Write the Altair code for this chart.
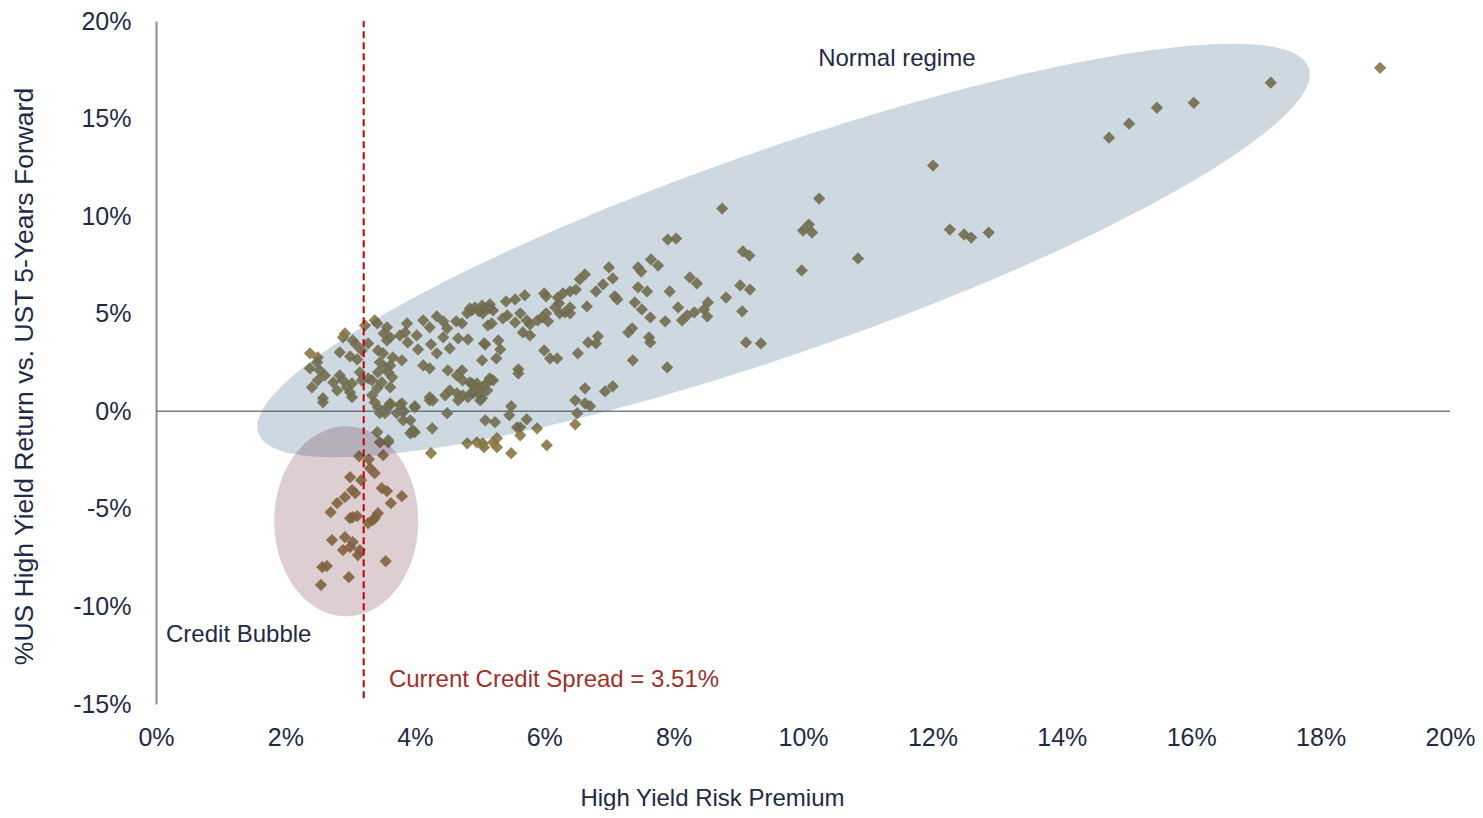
import altair as alt
import pandas as pd

# ---------------- data ----------------
spread = [
    14.73, 15.04, 15.47, 16.04, 17.23, 18.92, 12.01, 12.27, 12.49, 12.60,
    12.87, 10.85, 10.25, 8.75, 10.00, 10.09, 10.14, 7.91, 8.04, 9.07,
    9.17, 9.98, 7.76, 8.25, 8.36, 7.94, 9.03, 9.18, 8.81, 8.53,
    8.07, 8.47, 8.32, 8.21, 8.13, 8.52, 7.87, 9.06, 9.12, 9.35,
    7.90, 7.00, 7.45, 7.50, 7.65, 6.63, 6.55, 7.06, 6.91, 6.80,
    7.45, 7.59, 7.40, 7.51, 7.64, 7.09, 7.13, 6.49, 6.40, 6.29,
    6.21, 6.23, 6.00, 6.03, 5.70, 5.55, 5.41, 5.16, 5.21, 5.04,
    5.07, 4.88, 4.99, 6.17, 6.24, 6.40, 6.32, 6.40, 6.03, 5.97,
    6.06, 5.90, 5.63, 5.55, 5.43, 5.36, 5.73, 5.78, 6.66, 5.19,
    5.67, 5.78, 7.36, 7.30, 7.62, 7.64, 6.83, 6.80, 6.68, 5.09,
    5.29, 5.32, 5.26, 6.00, 6.09, 6.20, 6.52, 5.04, 5.60, 5.60,
    7.37, 5.16, 5.12, 5.05, 4.98, 5.21, 4.88, 4.90, 5.01, 6.63,
    7.06, 6.94, 6.48, 6.63, 6.71, 6.51, 5.49, 5.46, 5.09, 5.24,
    5.73, 5.63, 5.89, 6.48, 5.63, 4.96, 5.05, 5.21, 5.27, 6.04,
    5.49, 5.58, 4.81, 5.07, 5.27, 4.25, 3.62, 3.77, 3.82, 3.72,
    3.54, 4.00, 4.23, 4.50, 4.67, 5.01, 3.93, 3.96, 4.00, 4.27,
    3.59, 3.51, 3.88, 4.13, 4.23, 4.34, 4.44, 4.50, 4.64, 4.73,
    4.81, 5.05, 5.15, 5.13, 3.23, 3.42, 3.57, 3.52, 3.62, 3.57,
    2.92, 2.89, 3.04, 3.28, 3.09, 3.77, 3.85, 3.89, 4.05, 4.03,
    4.25, 4.34, 4.44, 4.54, 4.67, 4.82, 5.07, 2.84, 3.00, 3.11,
    3.18, 3.43, 3.51, 3.66, 3.80, 3.46, 3.62, 2.38, 2.50, 2.49,
    2.38, 2.53, 2.61, 2.50, 4.13, 4.23, 2.84, 2.89, 2.74, 2.80,
    2.95, 3.03, 3.00, 3.03, 3.15, 3.18, 3.28, 3.34, 3.43, 3.54,
    3.59, 3.65, 3.49, 3.42, 3.62, 3.34, 2.41, 2.58, 2.58, 4.51,
    4.73, 4.65, 4.74, 4.85, 4.96, 4.54, 4.65, 4.74, 4.82, 4.88,
    5.04, 5.12, 5.16, 4.23, 4.28, 4.47, 3.38, 3.43, 3.46, 3.57,
    3.62, 3.80, 3.82, 4.00, 3.97, 3.93, 3.42, 3.59, 3.46, 3.38,
    4.85, 4.93, 3.82, 3.14, 3.29, 3.31, 3.38, 3.00, 3.17, 3.49,
    3.57, 3.80, 3.03, 3.08, 2.92, 2.80, 2.70, 3.63, 3.00, 3.04,
    3.11, 3.28, 3.35, 3.43, 3.38, 2.72, 2.92, 3.04, 3.00, 2.89,
    3.15, 3.12, 3.55, 2.57, 2.64, 2.98, 2.55,
]
excess_return = [
    14.02, 14.74, 15.56, 15.81, 16.84, 17.60, 12.59, 9.31, 9.06, 8.90,
    9.16, 7.83, 10.90, 10.39, 9.26, 9.57, 9.16, 8.80, 8.85, 8.19,
    7.98, 7.22, 7.47, 6.86, 6.55, 6.14, 6.45, 6.24, 5.83, 5.58,
    5.32, 5.22, 5.07, 4.91, 4.66, 4.86, 4.61, 5.12, 3.53, 3.48,
    2.25, 7.37, 7.37, 7.16, 7.78, 7.01, 6.76, 6.81, 6.50, 6.14,
    6.35, 6.14, 5.58, 5.22, 4.81, 5.89, 5.73, 6.24, 6.14, 6.04,
    5.83, 5.53, 6.04, 5.89, 5.94, 5.73, 5.63, 5.48, 5.17, 5.42,
    5.22, 5.17, 5.12, 5.32, 5.02, 5.32, 5.07, 5.02, 5.02, 4.81,
    4.61, 4.66, 5.02, 4.55, 4.91, 4.76, 4.66, 4.45, 5.37, 4.50,
    4.04, 3.89, 4.25, 4.04, 3.79, 3.53, 3.84, 3.48, 3.53, 3.43,
    3.63, 3.17, 2.71, 3.12, 2.71, 2.71, 2.97, 2.61, 2.15, 1.94,
    2.61, 1.69, 1.48, 1.23, 1.18, 1.59, 1.43, 0.92, 0.82, 1.18,
    1.28, 1.02, 0.56, 0.41, 0.26, -0.10, 0.26, -0.20, -0.46, -0.56,
    -0.41, -0.82, -0.87, -0.67, -1.23, -1.59, -1.64, -1.59, -1.84, -1.74,
    -2.15, -0.82, -1.64, -1.84, -1.38, -2.15, 0.31, 0.31, 0.05, -0.10,
    -0.10, 0.26, 0.56, -0.10, 0.56, 0.56, -0.46, -1.07, -1.07, -0.87,
    -1.59, -2.25, 4.50, 4.66, 4.30, 4.86, 4.61, 4.25, 4.61, 4.50,
    5.02, 5.02, 5.27, 4.40, 4.40, 4.50, 4.30, 3.99, 3.79, 3.63,
    3.99, 3.79, 3.63, 3.48, 3.43, 3.89, 4.04, 3.53, 3.17, 3.89,
    3.43, 2.97, 3.79, 3.22, 3.74, 3.68, 3.48, 3.02, 2.81, 2.66,
    3.12, 3.12, 2.97, 2.76, 2.61, 2.51, 2.35, 2.97, 2.76, 2.51,
    2.20, 2.10, 1.84, 1.59, 2.35, 2.20, 1.84, 1.59, 1.48, 1.07,
    1.23, 1.43, 0.97, 0.72, 2.00, 1.59, 1.69, 1.59, 2.00, 2.25,
    2.00, 1.74, 1.48, 1.18, 1.23, 0.82, 1.23, 0.67, 0.46, 2.10,
    2.10, 1.84, 1.59, 1.48, 1.43, 1.07, 0.92, 0.82, 0.72, 0.97,
    0.67, 1.07, 1.59, 0.72, 0.56, 0.82, 0.46, 0.20, -0.10, 0.20,
    0.41, 0.41, -0.05, 0.20, -0.97, -1.13, -1.07, -1.48, -1.59, 4.66,
    5.27, 5.32, -0.46, -2.30, -2.46, -2.92, -3.17, -3.38, -3.53, -3.94,
    -4.09, -4.35, -4.04, -4.20, -4.40, -4.71, -5.17, -4.71, -5.48, -5.42,
    -5.37, -5.73, -5.58, -5.22, -5.48, -6.60, -6.45, -6.70, -6.96, -7.11,
    -7.11, -7.37, -7.68, -7.98, -7.93, -8.50, -8.90,
]

x_ticks = [0, 2, 4, 6, 8, 10, 12, 14, 16, 18, 20]
y_ticks = [-15, -10, -5, 0, 5, 10, 15, 20]

current_spread_line = [3.21]
current_spread_label = ["Current Credit Spread = 3.51%"]

# ellipse regions (center in data units)
normal_center = [9.70, 8.24]
bubble_center = [2.94, -5.63]

annotations_navy = pd.DataFrame({
    "x": [11.45, 0.155],
    "y": [18.07, -11.46],
    "label": ["Normal regime", "Credit Bubble"],
    "align": ["center", "left"],
})

# ---------------- styles ----------------
NAVY = "#1f2a48"
FONT = "Liberation Sans"
W, H = 1294, 683


def ellipse_path(rx, ry):
    k = 0.5523
    return (
        f"M {rx} 0 C {rx} {k*ry:.4f} {k*rx:.4f} {ry} 0 {ry} "
        f"C {-k*rx:.4f} {ry} {-rx} {k*ry:.4f} {-rx} 0 "
        f"C {-rx} {-k*ry:.4f} {-k*rx:.4f} {-ry} 0 {-ry} "
        f"C {k*rx:.4f} {-ry} {rx} {-k*ry:.4f} {rx} 0 Z"
    )


xs = alt.Scale(domain=[0, 20], nice=False, zero=False)
ys = alt.Scale(domain=[-15, 20], nice=False, zero=False)

x_axis = alt.Axis(
    values=x_ticks, labelExpr="datum.value + '%'", title="High Yield Risk Premium",
    domain=False, ticks=False, tickSize=0, grid=False, labelFontSize=25,
    labelFont=FONT, labelColor=NAVY, labelPadding=21, labelFlush=False,
    titleFont=FONT, titleFontSize=24, titleFontWeight="normal", titleColor=NAVY,
    titleX=556, titleY=101, titleAnchor="start", titleAlign="center",
    titleBaseline="alphabetic",
)
y_axis = alt.Axis(
    values=y_ticks, labelExpr="datum.value + '%'",
    title="%US High Yield Return vs. UST 5-Years Forward",
    domain=True, domainColor="#8c8c8c", domainWidth=2, ticks=False, tickSize=0,
    grid=False, labelFontSize=25, labelFont=FONT, labelColor=NAVY, labelPadding=25,
    labelFlush=False,
    titleFont=FONT, titleFontSize=26.5, titleFontWeight="normal",
    titleColor=NAVY, titleX=-132, titleY=355, titleAngle=270, titleAlign="center",
    titleAnchor="start", titleBaseline="middle",
)

X = alt.X("x:Q", scale=xs, axis=x_axis)
Y = alt.Y("y:Q", scale=ys, axis=y_axis)

df = pd.DataFrame({"x": spread, "y": excess_return})

points = alt.Chart(df).mark_point(
    shape="diamond", filled=True, size=150, color="#8a7644", opacity=0.9
).encode(x=X, y=Y)

zero_line = alt.Chart(pd.DataFrame({"x": [0], "x2": [20], "y": [0]})).mark_rule(
    color="#7f7f7f", strokeWidth=1.5
).encode(x=X, x2="x2:Q", y=Y)

normal_ellipse = alt.Chart(pd.DataFrame({"x": [normal_center[0]], "y": [normal_center[1]]})).mark_point(
    shape=ellipse_path(1, 0.1835), filled=True, color="#1c4e77", opacity=0.22,
    size=1112 ** 2, angle=340.8, strokeWidth=0
).encode(x=X, y=Y)

bubble_ellipse = alt.Chart(pd.DataFrame({"x": [bubble_center[0]], "y": [bubble_center[1]]})).mark_point(
    shape=ellipse_path(0.758, 1), filled=True, color="#5f202d", opacity=0.22,
    size=190 ** 2, strokeWidth=0
).encode(x=X, y=Y)

spread_rule = alt.Chart(pd.DataFrame({"x": current_spread_line, "y": [-14.7], "y2": [20]})).mark_rule(
    color="#c00000", strokeWidth=2, strokeDash=[7, 4]
).encode(x=X, y=Y, y2="y2:Q")

txt_center = alt.Chart(annotations_navy[annotations_navy["align"] == "center"]).mark_text(
    align="center", baseline="middle", fontSize=24, font=FONT, color=NAVY
).encode(x=X, y=Y, text="label:N")

txt_left = alt.Chart(annotations_navy[annotations_navy["align"] == "left"]).mark_text(
    align="left", baseline="middle", fontSize=24, font=FONT, color=NAVY
).encode(x=X, y=Y, text="label:N")

txt_red = alt.Chart(pd.DataFrame({"x": [3.60], "y": [-13.77], "label": current_spread_label})).mark_text(
    align="left", baseline="middle", fontSize=24, font=FONT, color="#a0302a"
).encode(x=X, y=Y, text="label:N")

chart = alt.layer(
    points, zero_line, normal_ellipse, bubble_ellipse, spread_rule, txt_center, txt_left, txt_red
).properties(
    width=W, height=H,
    autosize=alt.AutoSizeParams(type="none"),
    padding={"left": 148, "top": 13, "right": 25, "bottom": 106},
    background="white",
).configure_view(stroke=None)

chart.save("out.html", embed_options={"renderer": "svg", "actions": False})
